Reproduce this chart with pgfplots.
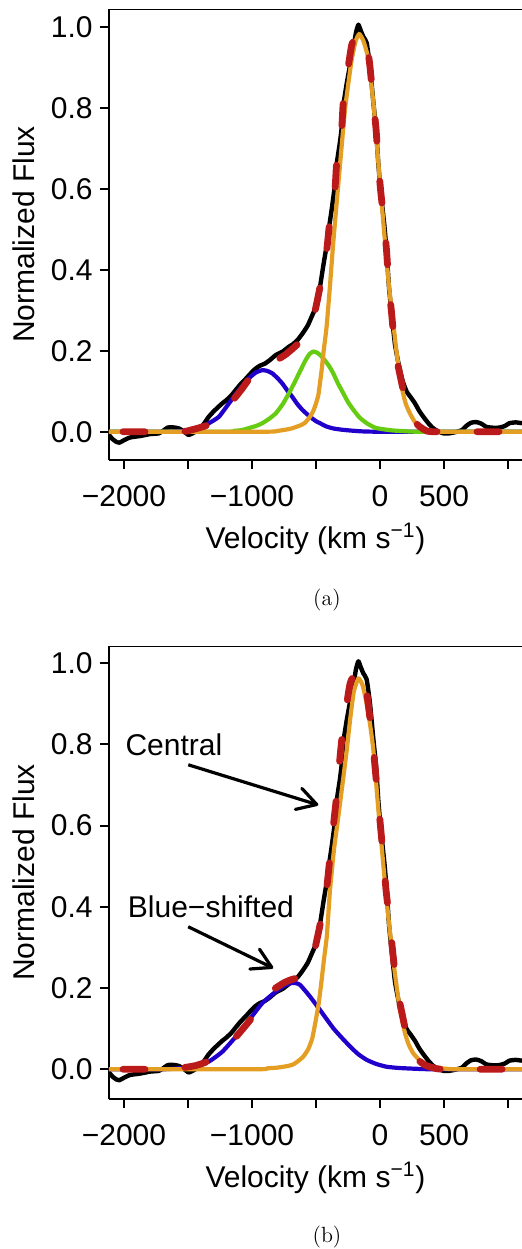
\documentclass[border=0pt]{standalone}
\usepackage{fontspec}
\usepackage{pgfplots}
\usepackage{pgfplotstable}
\pgfplotsset{compat=1.18}
\usetikzlibrary{arrows.meta}

\newfontfamily\arialfont{Liberation Sans}
\newcommand{\chartfont}{\arialfont\fontsize{15}{18}\selectfont}

\definecolor{compblue}{RGB}{34,0,204}
\definecolor{compgreen}{RGB}{102,204,17}
\definecolor{comporange}{RGB}{229,158,36}
\definecolor{totalred}{RGB}{187,26,26}

% observed spectrum (same in both panels)
\pgfplotstableread{
v f
-2117 -0.008
-2090 -0.018
-2060 -0.025
-2035 -0.027
-2000 -0.021
-1960 -0.015
-1930 -0.013
-1880 -0.011
-1830 -0.008
-1800 -0.006
-1760 -0.005
-1727 -0.004
-1695 0.002
-1660 0.010
-1630 0.011
-1600 0.010
-1570 0.008
-1530 0.000
-1495 -0.008
-1465 -0.004
-1430 0.002
-1400 0.010
-1370 0.022
-1340 0.036
-1300 0.050
-1260 0.062
-1232 0.070
-1200 0.078
-1160 0.090
-1127 0.103
-1090 0.117
-1050 0.130
-1016 0.142
-975 0.155
-938 0.163
-900 0.168
-860 0.177
-815 0.189
-760 0.198
-711 0.210
-680 0.216
-640 0.228
-602 0.244
-565 0.262
-534 0.284
-495 0.313
-469 0.357
-443 0.410
-417 0.460
-396 0.509
-377 0.550
-352 0.610
-339 0.660
-313 0.715
-299 0.752
-287 0.805
-260 0.860
-234 0.905
-209 0.945
-188 0.985
-169 1.005
-150 0.990
-130 0.975
-104 0.960
-78 0.900
-52 0.813
-31 0.747
-13 0.661
5 0.595
34 0.509
52 0.443
70 0.357
91 0.291
117 0.215
150 0.160
177 0.125
208 0.099
240 0.085
273 0.070
305 0.052
338 0.037
380 0.020
417 0.008
460 0.000
495 -0.004
540 -0.004
590 -0.001
640 0.004
677 0.015
710 0.022
750 0.024
790 0.020
830 0.012
870 0.010
930 0.010
975 0.014
1010 0.021
1060 0.023
1109 0.021
}\spectrum

% panel (a) components
\pgfplotstableread{
v f
-2117 0
-1700 0.000
-1600 0.001
-1500 0.003
-1420 0.008
-1336 0.021
-1258 0.037
-1180 0.070
-1102 0.103
-1023 0.132
-971 0.146
-919 0.152
-880 0.150
-841 0.144
-800 0.132
-763 0.119
-720 0.100
-685 0.086
-650 0.070
-607 0.054
-547 0.037
-500 0.026
-469 0.021
-420 0.013
-365 0.008
-300 0.005
-234 0.003
-150 0.001
0 0
1109 0
}\blueA

\pgfplotstableread{
v f
-2117 0
-1200 0.000
-1140 0.002
-1080 0.004
-1023 0.009
-970 0.014
-919 0.021
-870 0.031
-815 0.045
-760 0.068
-711 0.095
-670 0.120
-633 0.144
-600 0.165
-581 0.177
-550 0.192
-521 0.198
-490 0.195
-460 0.187
-443 0.181
-400 0.163
-365 0.144
-330 0.120
-287 0.095
-250 0.073
-208 0.054
-160 0.035
-104 0.021
-40 0.010
26 0.006
100 0.003
208 0.001
300 0
1109 0
}\greenA

\pgfplotstableread{
v f
-2117 0
-900 0.000
-800 0.002
-720 0.006
-680 0.009
-620 0.016
-586 0.022
-547 0.037
-520 0.052
-500 0.070
-482 0.090
-469 0.120
-455 0.155
-440 0.200
-417 0.260
-391 0.360
-365 0.468
-320 0.632
-273 0.797
-221 0.920
-190 0.965
-162 0.982
-130 0.965
-91 0.920
-47 0.797
-5 0.632
39 0.468
70 0.360
99 0.276
109 0.253
130 0.194
169 0.111
200 0.070
234 0.045
270 0.025
312 0.012
360 0.005
416 0.000
1109 0
}\orangeA

\pgfplotstableread{
v f
-2117 0
-1560 0.000
-1480 0.004
-1420 0.009
-1341 0.017
-1260 0.035
-1200 0.058
-1148 0.078
-1080 0.105
-1016 0.133
-960 0.153
-900 0.167
-807 0.177
-740 0.190
-690 0.203
-638 0.218
-590 0.240
-550 0.265
-508 0.298
-469 0.357
-417 0.447
-396 0.509
-352 0.600
-339 0.661
-299 0.752
-287 0.813
-247 0.904
-221 0.955
-190 0.978
-162 0.985
-130 0.978
-104 0.962
-78 0.900
-52 0.813
-31 0.747
-13 0.661
5 0.595
34 0.509
52 0.443
70 0.357
91 0.291
117 0.202
156 0.140
190 0.090
221 0.054
260 0.030
300 0.015
352 0.004
420 0.000
1109 0
}\totalA

% panel (b) components
\pgfplotstableread{
v f
-2117 0
-1700 0.000
-1620 0.001
-1545 0.003
-1440 0.008
-1336 0.019
-1232 0.043
-1127 0.080
-1023 0.121
-919 0.163
-815 0.191
-750 0.205
-700 0.212
-659 0.212
-625 0.208
-547 0.179
-469 0.146
-365 0.101
-300 0.078
-234 0.056
-170 0.037
-104 0.023
-30 0.013
52 0.006
150 0.003
286 0.001
400 0
1109 0
}\blueB

\pgfplotstableread{
v f
-2117 0
-950 0.000
-885 0.002
-800 0.004
-720 0.008
-677 0.012
-640 0.020
-599 0.031
-560 0.050
-530 0.075
-508 0.110
-480 0.160
-456 0.220
-438 0.270
-415 0.330
-391 0.440
-360 0.540
-326 0.622
-290 0.710
-260 0.786
-234 0.860
-205 0.930
-169 0.963
-135 0.945
-104 0.900
-78 0.850
-52 0.786
-13 0.640
39 0.458
70 0.360
99 0.280
130 0.203
156 0.146
195 0.089
225 0.060
260 0.039
310 0.022
365 0.011
440 0.004
521 0.001
600 0
1109 0
}\orangeB

\pgfplotstableread{
v f
-2117 0
-1600 0.000
-1531 0.004
-1440 0.009
-1349 0.019
-1232 0.045
-1127 0.079
-1010 0.123
-919 0.165
-828 0.197
-750 0.213
-700 0.220
-651 0.225
-600 0.240
-560 0.260
-530 0.278
-508 0.298
-469 0.355
-417 0.446
-396 0.507
-365 0.598
-344 0.659
-318 0.750
-299 0.811
-260 0.900
-234 0.950
-200 0.975
-169 0.985
-140 0.975
-117 0.959
-91 0.897
-57 0.807
-39 0.745
-13 0.655
5 0.594
31 0.503
47 0.441
78 0.355
99 0.290
130 0.203
169 0.142
200 0.095
234 0.052
290 0.025
352 0.010
420 0.003
500 0
1109 0
}\totalB

\pgfplotsset{
  specpanel/.style={
    scale only axis,
    width=206.5pt,
    xmin=-2117, xmax=1109,
    axis lines*=left,
    axis line style={line width=1pt},
    tick style={line width=1pt, black},
    tick align=outside,
    major tick length=4.5pt,
    xtick={-2000,-1500,-1000,-500,0,500,1000},
    xticklabels={−2000,,−1000,,0,500,},
    ytick={0,0.2,0.4,0.6,0.8,1.0},
    yticklabels={0.0,0.2,0.4,0.6,0.8,1.0},
    tick label style={font=\chartfont, inner sep=0pt},
    xticklabel shift=8pt,
    yticklabel shift=3.5pt,
    xlabel={Velocity (km s\textsuperscript{−1})},
    ylabel={Normalized Flux},
    every axis x label/.style={at={(rel axis cs:0.5,0)}, anchor=base,
      yshift=-44pt, font=\chartfont},
    every axis y label/.style={at={(rel axis cs:-0.2332,0.5)}, rotate=90,
      anchor=north, inner sep=0pt, font=\chartfont},
  },
  obs/.style={black, line width=2.2pt, line join=round, smooth, tension=0.3, no markers},
  comp/.style={line width=2.1pt, line join=round, smooth, tension=0.3, no markers},
  total/.style={totalred, line width=3.4pt, line cap=round, dash pattern=on 11pt off 20pt,
    dash phase=24pt, smooth, tension=0.3, no markers},
}

\begin{document}
\begin{tikzpicture}
\useasboundingbox (0,0) rectangle (261pt,-624.5pt);

\begin{axis}[specpanel, at={(54.5pt,-230pt)}, anchor=south west,
  height=225.5pt, ymin=-0.0699, ymax=1.0437]
\addplot[obs] table[x=v, y=f] {\spectrum};
\addplot[comp, compblue] table[x=v, y=f] {\blueA};
\addplot[comp, compgreen] table[x=v, y=f] {\greenA};
\addplot[comp, comporange] table[x=v, y=f] {\orangeA};
\addplot[total] table[x=v, y=f] {\totalA};
\draw[line width=1pt, line cap=rect] (rel axis cs:0,1) -- (rel axis cs:1.02,1);
\end{axis}

\begin{axis}[specpanel, at={(54.5pt,-549.5pt)}, anchor=south west,
  height=226.5pt, ymin=-0.0734, ymax=1.0426]
\addplot[obs] table[x=v, y=f] {\spectrum};
\addplot[comp, compblue] table[x=v, y=f] {\blueB};
\addplot[comp, comporange] table[x=v, y=f] {\orangeB};
\addplot[total] table[x=v, y=f] {\totalB};
\draw[line width=1pt, line cap=rect] (rel axis cs:0,1) -- (rel axis cs:1.02,1);
\node[font=\chartfont, anchor=base west, inner sep=0pt] at (axis cs:-1991,0.773) {Central};
\node[font=\chartfont, anchor=base west, inner sep=0pt] at (axis cs:-1972,0.374) {Blue−shifted};
\draw[line width=1.6pt, -{Straight Barb[length=9.5pt, width=11pt, round]}]
  (axis cs:-1498,0.750) -- (axis cs:-482,0.651);
\draw[line width=1.6pt, -{Straight Barb[length=9.5pt, width=11pt, round]}]
  (axis cs:-1498,0.351) -- (axis cs:-834,0.249);
\end{axis}

\node[font=\fontsize{11}{13}\selectfont] at (163.5pt,-300pt) {(a)};
\node[font=\fontsize{11}{13}\selectfont] at (163.5pt,-618.25pt) {(b)};
\end{tikzpicture}
\end{document}
